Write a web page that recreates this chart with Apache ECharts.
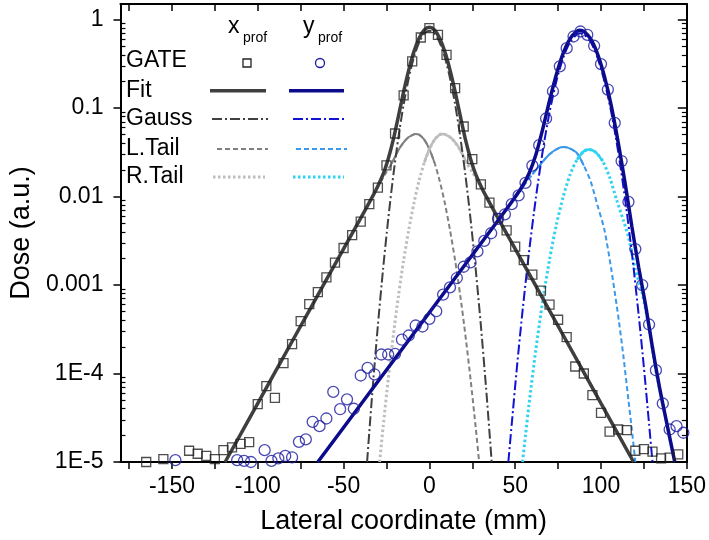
<!DOCTYPE html>
<html><head><meta charset="utf-8">
<script src="https://cdn.jsdelivr.net/npm/echarts@6/dist/echarts.min.js"></script>
<style>html,body{margin:0;padding:0;background:#fff}#c{width:709px;height:540px}</style>
</head><body><div id="c"></div>
<script>
// ---------- ticks ----------
const xTickValues = [-175,-150,-125,-100,-75,-50,-25,0,25,50,75,100,125,150];
const xLabelValues = [-150,-100,-50,0,50,100,150];
const yMajorValues = [1e-5,1e-4,1e-3,1e-2,1e-1,1];
const yTickLabels = ['1E-5','1E-4','0.001','0.01','0.1','1'];
const yMinorValues = [2e-5,3e-5,4e-5,5e-5,6e-5,7e-5,8e-5,9e-5,
  2e-4,3e-4,4e-4,5e-4,6e-4,7e-4,8e-4,9e-4,
  2e-3,3e-3,4e-3,5e-3,6e-3,7e-3,8e-3,9e-3,
  0.02,0.03,0.04,0.05,0.06,0.07,0.08,0.09,
  0.2,0.3,0.4,0.5,0.6,0.7,0.8,0.9];

// ---------- x profile (GATE squares) ----------
const gateXx = [-165,-155,-140,-135,-130,-125,-120,-115,-110,-105,-100,-95,-90,-85,-80,-75,-70,-65,-60,-55,-50,-45,-40,-35,-30,-25,-20,-15,-10,-5,0,5,10,15,20,25,30,35,40,45,50,55,60,65,70,75,80,85,90,95,100,105,110,115,120,125,130,135,140,145];
const gateXy = [1.0e-5,1.08e-5,1.34e-5,1.24e-5,1.17e-5,1.08e-5,1.36e-5,1.46e-5,1.6e-5,1.68e-5,4.5e-5,7.2e-5,5.3e-5,1.31e-4,2.15e-4,3.9e-4,6.1e-4,8.3e-4,1.22e-3,1.79e-3,2.62e-3,3.66e-3,5.2e-3,8.2e-3,0.0126,0.0225,0.0516,0.139,0.337,0.627,0.80,0.67,0.40,0.168,0.0619,0.0265,0.0137,8.55e-3,5.7e-3,4.15e-3,2.71e-3,1.91e-3,1.31e-3,8.65e-4,6.0e-4,4.05e-4,2.58e-4,1.2e-4,1.0e-4,5.7e-5,3.6e-5,2.2e-5,2.33e-5,2.29e-5,1.34e-5,1.4e-5,1.31e-5,1.1e-5,1.12e-5,1.22e-5];

const fitXx = [-119,-100,-80,-60,-40,-36,-33,-30,-27,-24,-21,-18,-15,-12,-9,-6,-3,0,3,6,9,12,15,18,21,24,27,30,33,36,40,60,80,100,119];
const fitXy = [1e-5,4.6e-5,2.3e-4,1.15e-3,5.7e-3,7.9e-3,0.0101,0.0132,0.0178,0.0266,0.0443,0.0816,0.153,0.270,0.434,0.616,0.761,0.817,0.761,0.616,0.434,0.270,0.153,0.0816,0.0443,0.0266,0.0178,0.0132,0.0101,7.9e-3,5.7e-3,1.15e-3,2.3e-4,4.6e-5,1e-5];

const gaussXx = [-36.3,-35,-33,-30,-27,-24,-21,-18,-15,-12,-9,-6,-3,0,3,6,9,12,15,18,21,24,27,30,33,35,36.3];
const gaussXy = [1e-5,2.19e-5,7.0e-5,3.5e-4,1.5e-3,5.53e-3,0.0175,0.0473,0.110,0.219,0.375,0.551,0.693,0.748,0.693,0.551,0.375,0.219,0.110,0.0473,0.0175,5.53e-3,1.5e-3,3.5e-4,7.0e-5,2.19e-5,1e-5];

const ltailXx = [-119,-100,-80,-60,-40,-30,-25,-22,-18,-15,-12,-9,-8,-6,-3,0,3,6,9,12,15,18,21,24,27,29];
const ltailXy = [1e-5,4.6e-5,2.3e-4,1.15e-3,5.7e-3,0.0128,0.019,0.0235,0.0335,0.041,0.047,0.0505,0.051,0.050,0.0439,0.0344,0.0241,0.0151,8.45e-3,4.2e-3,1.9e-3,7.6e-4,2.7e-4,8.6e-5,2.45e-5,1e-5];

const rtailXx = [-29,-27,-24,-21,-18,-15,-12,-9,-6,-3,0,3,6,8,9,12,15,18,22,25,30,40,60,80,100,119];
const rtailXy = [1e-5,2.45e-5,8.6e-5,2.7e-4,7.6e-4,1.9e-3,4.2e-3,8.45e-3,0.0151,0.0241,0.0344,0.0439,0.050,0.051,0.0505,0.047,0.041,0.0335,0.0235,0.019,0.0128,5.7e-3,1.15e-3,2.3e-4,4.6e-5,1e-5];

// ---------- y profile (GATE circles) ----------
const gateYx = [-148,-112,-108,-104,-96,-92,-88,-84,-80,-76,-72,-68,-64,-60,-56,-52,-48,-44,-40,-36,-32,-28,-24,-20,-16,-12,-8,-4,0,4,8,12,16,20,24,28,32,36,40,44,48,52,56,60,64,68,72,76,80,84,88,92,96,100,104,108,112,116,120,124,128,132,136,140,144,148];
const gateYy = [1.05e-5,1.05e-5,1.03e-5,1.0e-5,1.36e-5,1.03e-5,1.1e-5,1.17e-5,1.13e-5,1.69e-5,1.8e-5,2.84e-5,2.54e-5,3.1e-5,6.2e-5,3.95e-5,5.1e-5,4.0e-5,9.5e-5,1.16e-4,9.8e-5,1.64e-4,1.64e-4,1.67e-4,2.41e-4,2.69e-4,3.49e-4,3.4e-4,4.15e-4,5.06e-4,7.8e-4,9.4e-4,1.2e-3,1.61e-3,1.8e-3,2.4e-3,3.16e-3,3.85e-3,5.6e-3,6.3e-3,8.2e-3,0.0103,0.0143,0.0224,0.0381,0.0762,0.155,0.296,0.475,0.644,0.733,0.673,0.506,0.314,0.162,0.068,0.0252,8.7e-3,2.55e-3,1.0e-3,3.58e-4,1.09e-4,4.58e-5,2.33e-5,2.54e-5,2.14e-5];

const fitYx = [-65,-40,0,20,40,46,50,54,58,62,66,70,74,78,82,86,88,90,94,98,102,106,110,114,118,122,126,130,134,138,143];
const fitYy = [1e-5,4.47e-5,4.9e-4,1.62e-3,5.37e-3,7.7e-3,9.9e-3,0.0129,0.0181,0.0295,0.0574,0.121,0.240,0.417,0.609,0.740,0.759,0.737,0.605,0.408,0.228,0.106,0.041,0.0143,4.55e-3,1.57e-3,5.9e-4,1.96e-4,7.1e-5,2.95e-5,1e-5];

const gaussYx = [46,48,51,54,58,62,66,70,74,78,82,86,88,90,94,98,102,106,110,114,118,122,125,128,130];
const gaussYy = [1e-5,2.7e-5,1.17e-4,4.5e-4,2.3e-3,9.5e-3,0.0323,0.0893,0.201,0.371,0.557,0.682,0.700,0.682,0.557,0.371,0.201,0.0893,0.0323,9.5e-3,2.3e-3,4.5e-4,1.17e-4,2.7e-5,1e-5];

const ltailYx = [-65,-40,0,20,40,50,60,65,70,75,78.5,82,86,90,94,98,102,106,110,113,116,118,120];
const ltailYy = [1e-5,4.47e-5,4.9e-4,1.62e-3,5.37e-3,9.8e-3,0.0178,0.0234,0.030,0.035,0.0362,0.0348,0.031,0.0224,0.0148,7.9e-3,4.2e-3,1.5e-3,4.5e-4,1.6e-4,5e-5,2.3e-5,1e-5];

const rtailYx = [54.3,56,58,62,66,70,74,78,82,86,90,93,97,101,105,109,113,116,120,124,128,132,136,140,143];
const rtailYy = [1e-5,2.0e-5,4.4e-5,1.84e-4,6.5e-4,1.93e-3,4.8e-3,0.01,0.0177,0.0261,0.0325,0.0341,0.0316,0.0251,0.0166,9.3e-3,5.4e-3,3.5e-3,1.5e-3,8.1e-4,3.3e-4,1.07e-4,4.6e-5,1.9e-5,1e-5];

// index ranges (inclusive) where the broken tail lines render as a continuous arc near their peak
const flatRanges = { ltX:[7,16], rtX:[9,18], ltY:[6,13], rtY:[9,13] };

// ---------- legend texts ----------
const legendRows = ['GATE','Fit','Gauss','L.Tail','R.Tail'];

// ---------- styling ----------
const FONT = 'Liberation Sans, Arial, sans-serif';
const C = {
  sq:'#222222', fitX:'#3f3f3f', gaussX:'#404040', ltX:'#808080', rtX:'#bdbdbd',
  ci:'#1a1aa0', fitY:'#0b0b8c', gaussY:'#1212d2', ltY:'#3c98e8', rtY:'#2fd2f0'
};
const DASH = { gauss:[10,3,2,3], lt:[5,3], rt:[2.5,2.5] };
const pair = (xs, ys) => xs.map((x, i) => [x, ys[i]]);
const sub = (xs, ys, r) => pair(xs.slice(r[0], r[1] + 1), ys.slice(r[0], r[1] + 1));

function lineSeries(name, data, color, width, dash, z) {
  return { name, type:'line', data, xAxisIndex:0, yAxisIndex:0,
    symbol:'none', smooth:0.25, z,
    lineStyle:{ color, width, type: dash || 'solid', cap:'butt' } };
}

const chart = echarts.init(document.getElementById('c'), null, {renderer:'canvas'});

const axisLineStyle = { show:true, onZero:false, lineStyle:{ color:'#000', width:2 } };
const noLine = { show:false, onZero:false };
const yCommon = { type:'log', logBase:10, min:1e-5, max:1.5, splitLine:{show:false} };
const xCommon = { type:'value', min:-180, max:150, splitLine:{show:false} };

// legend graphics
const g = [];
const rowY = [62, 91, 119, 149, 177];
legendRows.forEach((t, i) => {
  g.push({ type:'text', x:126, y:rowY[i] + (i===0 ? -1 : 0), style:{ text:t, font:'23px ' + FONT, fill:'#000', align:'left', verticalAlign:'middle' } });
});
g.push({ type:'text', x:228, y:27, style:{ text:'x', font:'23px ' + FONT, fill:'#000', align:'left', verticalAlign:'middle' } });
g.push({ type:'text', x:243, y:38, style:{ text:'prof', font:'14px ' + FONT, fill:'#000', align:'left', verticalAlign:'middle' } });
g.push({ type:'text', x:303, y:27, style:{ text:'y', font:'23px ' + FONT, fill:'#000', align:'left', verticalAlign:'middle' } });
g.push({ type:'text', x:318, y:38, style:{ text:'prof', font:'14px ' + FONT, fill:'#000', align:'left', verticalAlign:'middle' } });
g.push({ type:'rect', shape:{ x:243, y:59, width:8, height:8 }, style:{ fill:'none', stroke:C.sq, lineWidth:1.3 } });
g.push({ type:'circle', shape:{ cx:320, cy:63, r:4.5 }, style:{ fill:'none', stroke:C.ci, lineWidth:1.3 } });
const legLine = (x1, x2, y, color, w, dash) => ({ type:'line', shape:{ x1, y1:y, x2, y2:y }, style:{ stroke:color, lineWidth:w, lineDash:dash || null } });
g.push(legLine(210, 266, 90.7, C.fitX, 3.5));
g.push(legLine(289, 344, 90.7, C.fitY, 3.5));
g.push(legLine(212, 268, 119, C.gaussX, 2, DASH.gauss));
g.push(legLine(293, 347, 119, C.gaussY, 2, DASH.gauss));
g.push(legLine(217, 268, 149, C.ltX, 2, DASH.lt));
g.push(legLine(296, 347, 149, C.ltY, 2, DASH.lt));
g.push(legLine(213, 265, 177, C.rtX, 3, DASH.rt));
g.push(legLine(293, 344, 177, C.rtY, 3, DASH.rt));

const option = {
  animation:false,
  backgroundColor:'#fff',
  grid:{ left:119, right:21, top:4, bottom:78, containLabel:false },
  xAxis:[
    Object.assign({}, xCommon, { position:'bottom',
      axisLine:axisLineStyle,
      axisTick:{ show:true, inside:false, length:7, customValues:xTickValues, lineStyle:{color:'#000', width:1.5} },
      axisLabel:{ show:true, customValues:xLabelValues, margin:13, color:'#000', fontSize:23, fontFamily:FONT },
      name:'Lateral coordinate (mm)', nameLocation:'middle', nameGap:46,
      nameTextStyle:{ color:'#000', fontSize:27, fontFamily:FONT } }),
    Object.assign({}, xCommon, { position:'top',
      axisLine:axisLineStyle,
      axisTick:{ show:true, inside:true, length:7, customValues:xTickValues, lineStyle:{color:'#000', width:1.5} },
      axisLabel:{ show:false } })
  ],
  yAxis:[
    Object.assign({}, yCommon, { position:'left',
      axisLine:axisLineStyle,
      axisTick:{ show:true, inside:false, length:7, customValues:yMajorValues, lineStyle:{color:'#000', width:1.5} },
      axisLabel:{ show:true, customValues:yMajorValues, margin:17, color:'#000', fontSize:23, fontFamily:FONT,
        formatter:(v) => { const i = yMajorValues.findIndex(m => Math.abs(Math.log10(m) - Math.log10(v)) < 1e-6); return i >= 0 ? yTickLabels[i] : ''; } },
      name:'Dose (a.u.)', nameLocation:'middle', nameGap:77,
      nameTextStyle:{ color:'#000', fontSize:27, fontFamily:FONT } }),
    Object.assign({}, yCommon, { position:'left',
      axisLine:noLine,
      axisTick:{ show:true, inside:true, length:5, customValues:yMinorValues, lineStyle:{color:'#000', width:1.2} },
      axisLabel:{ show:false } }),
    Object.assign({}, yCommon, { position:'right',
      axisLine:axisLineStyle,
      axisTick:{ show:true, inside:true, length:9, customValues:yMajorValues, lineStyle:{color:'#000', width:1.5} },
      axisLabel:{ show:false } }),
    Object.assign({}, yCommon, { position:'right',
      axisLine:noLine,
      axisTick:{ show:true, inside:true, length:5, customValues:yMinorValues, lineStyle:{color:'#000', width:1.2} },
      axisLabel:{ show:false } })
  ],
  graphic:g,
  series:[
    lineSeries('L.Tail x', pair(ltailXx, ltailXy), C.ltX, 2, DASH.lt, 2),
    lineSeries('L.Tail x arc', sub(ltailXx, ltailXy, flatRanges.ltX), C.ltX, 2, null, 2),
    lineSeries('R.Tail x', pair(rtailXx, rtailXy), C.rtX, 3, DASH.rt, 2),
    lineSeries('R.Tail x arc', sub(rtailXx, rtailXy, flatRanges.rtX), C.rtX, 2.5, null, 2),
    lineSeries('Gauss x', pair(gaussXx, gaussXy), C.gaussX, 2, DASH.gauss, 2),
    lineSeries('L.Tail y', pair(ltailYx, ltailYy), C.ltY, 2, DASH.lt, 2),
    lineSeries('L.Tail y arc', sub(ltailYx, ltailYy, flatRanges.ltY), C.ltY, 2, null, 2),
    lineSeries('R.Tail y', pair(rtailYx, rtailYy), C.rtY, 3, DASH.rt, 2),
    lineSeries('R.Tail y arc', sub(rtailYx, rtailYy, flatRanges.rtY), C.rtY, 2.5, null, 2),
    lineSeries('Gauss y', pair(gaussYx, gaussYy), C.gaussY, 2, DASH.gauss, 2),
    lineSeries('Fit x', pair(fitXx, fitXy), C.fitX, 3.5, null, 3),
    lineSeries('Fit y', pair(fitYx, fitYy), C.fitY, 3.5, null, 3),
    { name:'GATE x', type:'scatter', data:pair(gateXx, gateXy), symbol:'rect', symbolSize:9, z:4,
      itemStyle:{ color:'rgba(0,0,0,0)', borderColor:C.sq, borderWidth:1.3 } },
    { name:'GATE y', type:'scatter', data:pair(gateYx, gateYy), symbol:'circle', symbolSize:11, z:4,
      itemStyle:{ color:'rgba(0,0,0,0)', borderColor:C.ci, borderWidth:1.3 } }
  ]
};
chart.setOption(option);
</script>
</body></html>
